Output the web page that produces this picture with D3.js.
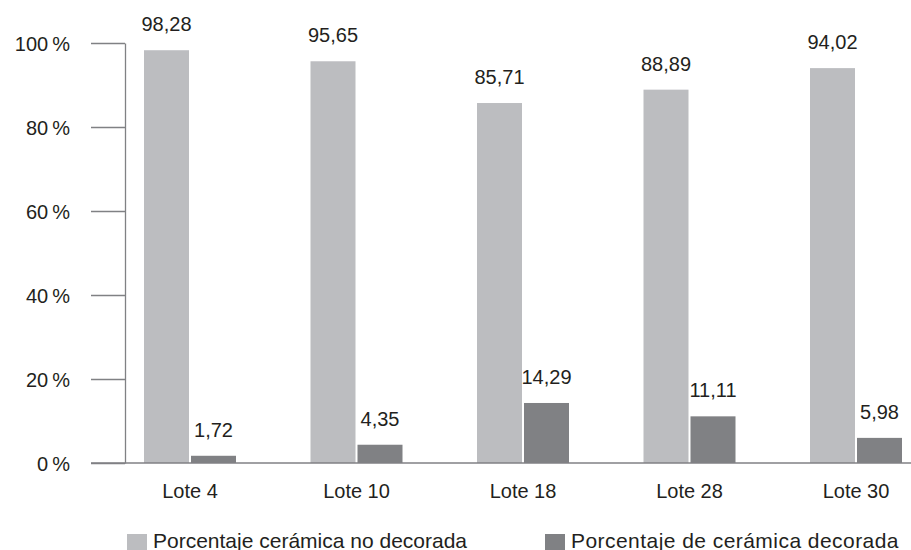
<!DOCTYPE html>
<html>
<head>
<meta charset="utf-8">
<script src="https://cdn.jsdelivr.net/npm/d3@7/dist/d3.min.js"></script>
<style>
  html, body { margin: 0; padding: 0; background: #fff; }
  svg text { font-family: "Liberation Sans", Arial, Helvetica, sans-serif; fill: #231f20; }
</style>
</head>
<body>
<svg id="chart" width="911" height="550"></svg>
<script>
// Lotes and percentages of pottery
const lotes = ["Lote 4", "Lote 10", "Lote 18", "Lote 28", "Lote 30"];
const noDecorada = [98.28, 95.65, 85.71, 88.89, 94.02];
const decorada = [1.72, 4.35, 14.29, 11.11, 5.98];
const yTicks = [0, 20, 40, 60, 80, 100];
const seriesNames = ["Porcentaje cerámica no decorada", "Porcentaje de cerámica decorada"];
const seriesColors = ["#bcbdc0", "#808184"];

const fmt = v => v.toFixed(2).replace(".", ",");

const svg = d3.select("#chart");

const x = d3.scaleBand().domain(lotes).range([106.75, 939.25]).padding(0);
const y = d3.scaleLinear().domain([0, 100]).range([463, 43]);

const barW = 45, gap = 1;
const axisColor = "#808184";

// y axis: vertical line plus ticks to the left
const yAxis = svg.append("g")
  .attr("transform", "translate(125,0)")
  .call(d3.axisLeft(y).tickValues(yTicks).tickSize(34).tickSizeOuter(0)
    .tickFormat(d => d + "\u2009%"));
yAxis.select(".domain").attr("stroke", axisColor).attr("stroke-width", 1.3);
yAxis.selectAll(".tick line").attr("stroke", axisColor).attr("stroke-width", 1.3);
yAxis.selectAll(".tick text")
  .attr("x", -55)
  .attr("dy", "0.35em")
  .style("font-size", "20px");

const data = lotes.map((l, i) => ({ lote: l, a: noDecorada[i], b: decorada[i] }));
const cx = d => x(d.lote) + x.bandwidth() / 2;

// bars
svg.append("g").selectAll("rect.a").data(data).join("rect")
  .attr("x", d => cx(d) - gap - barW)
  .attr("y", d => y(d.a))
  .attr("width", barW)
  .attr("height", d => y(0) - y(d.a))
  .attr("fill", seriesColors[0]);

svg.append("g").selectAll("rect.b").data(data).join("rect")
  .attr("x", d => cx(d) + gap)
  .attr("y", d => y(d.b))
  .attr("width", barW)
  .attr("height", d => y(0) - y(d.b))
  .attr("fill", seriesColors[1]);

// x axis baseline with category labels
const xAxis = svg.append("g")
  .attr("transform", `translate(0,${y(0)})`)
  .call(d3.axisBottom(x).tickSize(0).tickSizeOuter(0));
xAxis.select(".domain").remove();
svg.append("line")
  .attr("x1", 91).attr("x2", 911)
  .attr("y1", y(0)).attr("y2", y(0))
  .attr("stroke", axisColor).attr("stroke-width", 1.6);
xAxis.selectAll(".tick text")
  .attr("y", 35)
  .attr("dy", 0)
  .style("font-size", "20px");

// value labels above bars
svg.append("g").selectAll("text").data(data).join("text")
  .attr("x", d => cx(d) - gap - barW / 2)
  .attr("y", d => y(d.a) - 19)
  .attr("text-anchor", "middle")
  .style("font-size", "20px")
  .text(d => fmt(d.a));

svg.append("g").selectAll("text").data(data).join("text")
  .attr("x", d => cx(d) + gap + barW / 2)
  .attr("y", d => y(d.b) - 19)
  .attr("text-anchor", "middle")
  .style("font-size", "20px")
  .text(d => fmt(d.b));

// legend
const legendX = [127, 545];
const legendSpacing = [0, 0.45];
const legend = svg.append("g").selectAll("g").data(seriesNames).join("g")
  .attr("transform", (d, i) => `translate(${legendX[i]},534)`);
legend.append("rect")
  .attr("width", 20).attr("height", 20)
  .attr("fill", (d, i) => seriesColors[i]);
legend.append("text")
  .attr("x", 26).attr("y", 13.5)
  .style("font-size", "21px")
  .style("letter-spacing", (d, i) => legendSpacing[i] + "px")
  .text(d => d);
</script>
</body>
</html>
